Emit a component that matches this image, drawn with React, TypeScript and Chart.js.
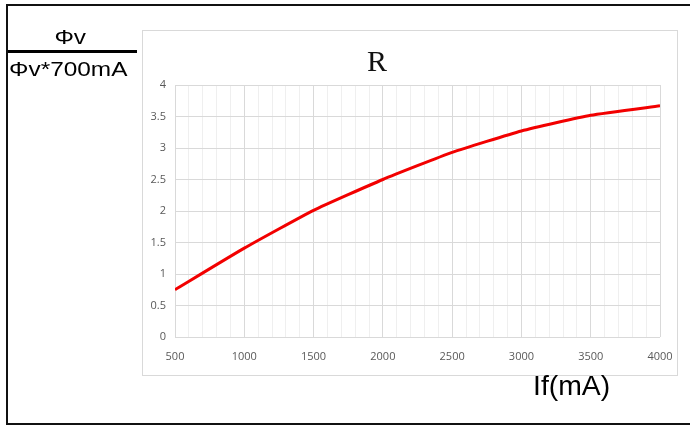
import React, { useEffect, useRef } from "react";
import { Chart, registerables } from "chart.js";

Chart.register(...registerables);

const currents = [500, 1000, 1500, 2000, 2500, 3000, 3500, 4000];
const ratios = [0.75, 1.41, 2.01, 2.5, 2.93, 3.27, 3.52, 3.67];
const yTicks = [0, 0.5, 1, 1.5, 2, 2.5, 3, 3.5, 4];
const titleText = "R";
const xAxisLabel = "If(mA)";
const yNumerator = "Φv";
const yDenominator = "Φv*700mA";

export default function App() {
  const ref = useRef<HTMLCanvasElement>(null);

  useEffect(() => {
    if (!ref.current) return;
    const chart = new Chart(ref.current, {
      type: "line",
      data: {
        datasets: [
          {
            data: currents.map((c, i) => ({ x: c, y: ratios[i] })),
            borderColor: "#f20000",
            borderWidth: 3,
            pointRadius: 0,
            tension: 0.15,
            fill: false,
          },
        ],
      },
      options: {
        animation: false,
        responsive: false,
        maintainAspectRatio: false,
        layout: { padding: { left: 0, right: 17, top: 55, bottom: 0 } },
        plugins: { legend: { display: false }, tooltip: { enabled: false }, title: { display: false } },
        scales: {
          x: {
            type: "linear",
            min: 500,
            max: 4000,
            afterFit: (s: any) => {
              s.height = 38;
              s.paddingLeft = 0;
              s.paddingRight = 0;
            },
            afterBuildTicks: (s: any) => {
              const t = [];
              for (let v = 500; v <= 4000; v += 100) t.push({ value: v });
              s.ticks = t;
            },
            border: { display: false },
            grid: {
              drawTicks: false,
              color: (ctx: any) =>
                ctx.tick && ctx.tick.value % 500 === 0 ? "#d9d9d9" : "#efefef",
              lineWidth: 1,
            },
            ticks: {
              autoSkip: false,
              maxRotation: 0,
              padding: 13,
              color: "#595959",
              font: { family: "'Open Sans', sans-serif", size: 11 },
              callback: (v: any) => (Number(v) % 500 === 0 ? String(v) : ""),
            },
          },
          y: {
            min: 0,
            max: 4,
            afterFit: (s: any) => {
              s.width = 32;
              s.paddingTop = 0;
              s.paddingBottom = 0;
            },
            afterBuildTicks: (s: any) => {
              s.ticks = yTicks.map((v) => ({ value: v }));
            },
            border: { display: false },
            grid: { drawTicks: false, color: "#d9d9d9", lineWidth: 1 },
            ticks: {
              padding: 9,
              color: "#595959",
              font: { family: "'Open Sans', sans-serif", size: 11 },
              callback: (v: any) => String(v),
            },
          },
        },
      },
    });
    return () => chart.destroy();
  }, []);

  const sans = "'Liberation Sans', Arial, sans-serif";

  return (
    <div
      style={{
        position: "fixed",
        left: 0,
        top: 0,
        width: 690,
        height: 426,
        overflow: "hidden",
        background: "#fff",
      }}
    >
      <div
        style={{
          position: "absolute",
          left: 6,
          top: 4,
          width: 720,
          height: 421,
          border: "2px solid #111",
          boxSizing: "border-box",
        }}
      />
      <div
        style={{
          position: "absolute",
          left: 142,
          top: 30,
          width: 536,
          height: 346,
          border: "1px solid #d9d9d9",
          boxSizing: "border-box",
        }}
      />
      <canvas
        ref={ref}
        width={534}
        height={345}
        style={{ position: "absolute", left: 143, top: 30, width: 534, height: 345 }}
      />
      <div
        style={{
          position: "absolute",
          left: 337,
          top: 43,
          width: 80,
          textAlign: "center",
          fontFamily: "'Liberation Serif', serif",
          fontSize: 30,
          lineHeight: "36px",
          color: "#111",
        }}
      >
        {titleText}
      </div>
      <div
        style={{
          position: "absolute",
          left: 8,
          top: 27,
          width: 128,
          textAlign: "center",
          fontFamily: sans,
          fontSize: 20,
          lineHeight: "20px",
          color: "#000",
          transform: "scaleX(1.22)",
          transformOrigin: "72px 0",
        }}
      >
        {yNumerator}
      </div>
      <div
        style={{
          position: "absolute",
          left: 8,
          top: 50,
          width: 129,
          height: 3,
          background: "#000",
        }}
      />
      <div
        style={{
          position: "absolute",
          left: 9,
          top: 59,
          fontFamily: sans,
          fontSize: 20,
          lineHeight: "20px",
          color: "#000",
          whiteSpace: "nowrap",
          transform: "scaleX(1.22)",
          transformOrigin: "0 0",
        }}
      >
        {yDenominator}
      </div>
      <div
        style={{
          position: "absolute",
          left: 533,
          top: 373,
          fontFamily: sans,
          fontSize: 27,
          lineHeight: "27px",
          color: "#000",
          whiteSpace: "nowrap",
          transform: "scaleX(1.05)",
          transformOrigin: "0 0",
        }}
      >
        {xAxisLabel}
      </div>
    </div>
  );
}
